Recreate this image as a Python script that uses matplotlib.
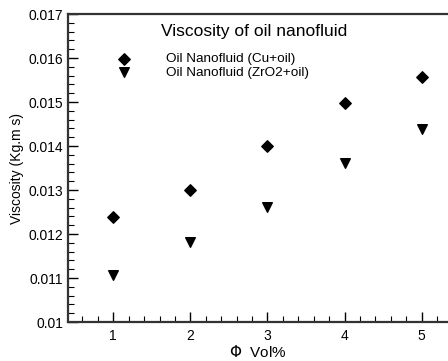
import numpy as np
import matplotlib.pyplot as plt
from matplotlib.ticker import MultipleLocator

plt.rcParams['font.family'] = ['Liberation Sans', 'DejaVu Sans']

phi = [1, 2, 3, 4, 5]
visc_cu = [0.01239, 0.01300, 0.01400, 0.01497, 0.01557]
visc_zro2 = [0.01107, 0.01182, 0.01261, 0.01361, 0.01439]
labels = ['Oil Nanofluid (Cu+oil)', 'Oil Nanofluid (ZrO2+oil)']

fig = plt.figure(figsize=(4.48, 3.61), dpi=100)
ax = fig.add_axes([0.152, 0.108, 0.848, 0.853])

ax.scatter(phi, visc_cu, marker='D', s=34, color='black', label=labels[0])
ax.scatter(phi, visc_zro2, marker='v', s=48, color='black', label=labels[1])

ax.set_xlim(0.415, 5.34)
ax.set_ylim(0.010, 0.017)
ax.xaxis.set_major_locator(MultipleLocator(1))
ax.xaxis.set_minor_locator(MultipleLocator(0.2))
ax.yaxis.set_minor_locator(MultipleLocator(0.0002))
ax.set_yticks(np.arange(0.010, 0.0171, 0.001))
ax.set_yticklabels(['0.01', '0.011', '0.012', '0.013', '0.014', '0.015', '0.016', '0.017'])

ax.tick_params(which='both', direction='in', labelsize=10, colors='black')
ax.tick_params(which='major', length=7, width=1)
ax.tick_params(which='minor', length=4, width=0.8)
ax.tick_params(axis='x', pad=5)

ax.spines['right'].set_visible(False)
for s in ['left', 'bottom', 'top']:
    ax.spines[s].set_linewidth(1.6)
    ax.spines[s].set_color('#333333')

ax.text(0.49, 0.942, 'Viscosity of oil nanofluid', transform=ax.transAxes,
        ha='center', va='center', fontsize=12.5)

ax.legend(loc='upper left', bbox_to_anchor=(0.087, 0.905), frameon=False,
          fontsize=9.7, handletextpad=2.1, labelspacing=0.1, borderpad=0.2)

ax.set_ylabel('Viscosity (Kg.m s)', fontsize=10, labelpad=3)
ax.set_xlabel(r'$\Phi$  Vol%', fontsize=11, labelpad=1)

plt.savefig('out.png', dpi=100)
